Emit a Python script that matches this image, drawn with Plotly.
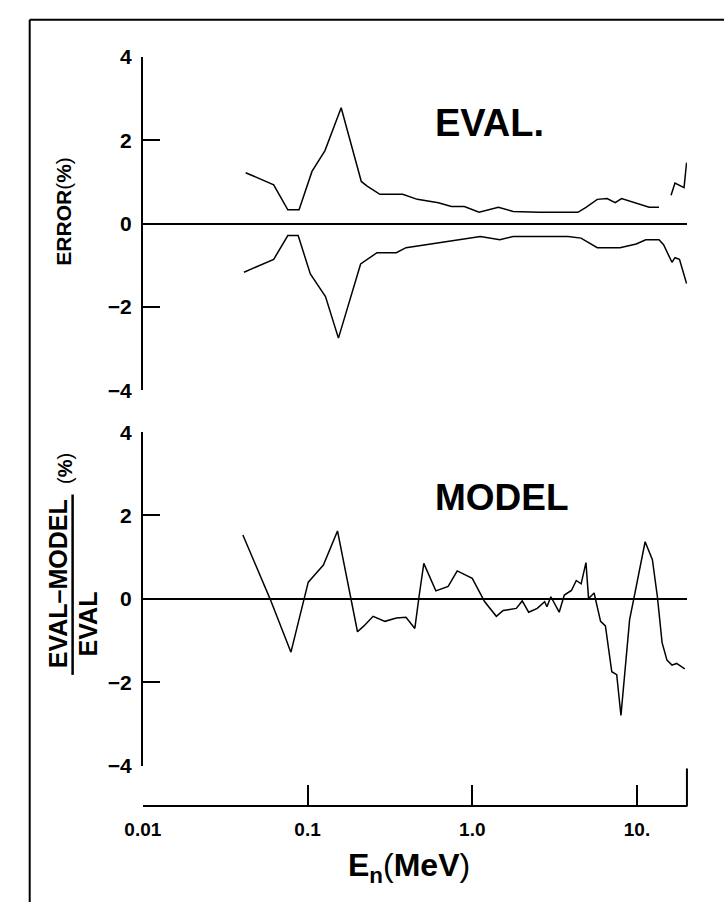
import math
import plotly.graph_objects as go

# ---------------- data ----------------
# Top panel: evaluation error (%), upper and lower envelopes
err_up_E = [0.0421, 0.0623, 0.0759, 0.0888, 0.1064, 0.1276, 0.160, 0.212, 0.230, 0.275,
            0.378, 0.464, 0.623, 0.747, 0.895, 1.10, 1.44, 1.77, 2.54, 4.38, 4.90,
            5.74, 6.58, 7.37, 8.06, 9.89, 11.85, 13.6]
err_up_V = [1.22, 0.93, 0.33, 0.33, 1.25, 1.75, 2.78, 1.01, 0.90, 0.70,
            0.70, 0.58, 0.50, 0.41, 0.41, 0.27, 0.39, 0.29, 0.27, 0.27, 0.39,
            0.58, 0.60, 0.50, 0.60, 0.49, 0.39, 0.39]
err_up_tail_E = [16.1, 17.0, 19.3, 20.0]
err_up_tail_V = [0.68, 0.97, 0.86, 1.46]

err_lo_E = [0.0411, 0.0623, 0.0759, 0.0877, 0.104, 0.1285, 0.154, 0.210, 0.264, 0.346,
            0.396, 0.520, 0.682, 0.818, 1.12, 1.47, 1.77, 2.66, 3.81, 4.57, 5.74,
            6.88, 7.88, 9.89, 11.3, 13.6, 14.5, 16.3, 17.0, 18.1, 20.0]
err_lo_V = [-1.17, -0.86, -0.29, -0.29, -1.21, -1.75, -2.75, -0.97, -0.70, -0.70,
            -0.58, -0.51, -0.43, -0.39, -0.31, -0.39, -0.31, -0.31, -0.31, -0.35, -0.58,
            -0.58, -0.58, -0.49, -0.39, -0.39, -0.51, -0.93, -0.82, -0.86, -1.44]

# Bottom panel: (EVAL-MODEL)/EVAL (%)
mod_E = [0.0405, 0.0592, 0.0793, 0.0951, 0.101, 0.1114, 0.1248, 0.152, 0.182, 0.201,
         0.220, 0.250, 0.295, 0.346, 0.396, 0.448, 0.475, 0.508, 0.601, 0.714,
         0.810, 1.00, 1.19, 1.40, 1.54, 1.85, 2.01, 2.20, 2.48, 2.75, 2.84, 3.00,
         3.37, 3.62, 4.00, 4.28, 4.58, 4.90, 5.08, 5.49, 6.01, 6.43, 7.03, 7.53,
         7.99, 9.02, 9.66, 11.2, 12.4, 13.3, 14.2, 15.2, 16.3, 17.4, 19.5]
mod_V = [1.53, 0.00, -1.28, -0.03, 0.40, 0.59, 0.81, 1.63, 0.05, -0.79,
         -0.65, -0.42, -0.54, -0.46, -0.44, -0.71, 0.05, 0.85, 0.19, 0.30,
         0.67, 0.49, -0.07, -0.42, -0.28, -0.23, -0.05, -0.32, -0.23, -0.07, -0.19, 0.05,
         -0.32, 0.09, 0.20, 0.44, 0.36, 0.87, 0.01, 0.14, -0.54, -0.65, -1.75, -1.82,
         -2.80, -0.50, 0.09, 1.37, 0.94, 0.05, -1.05, -1.47, -1.59, -1.55, -1.68]

y_ticks = [-4, -2, 0, 2, 4]
x_ticks = [0.01, 0.1, 1, 10]
x_ticktext = ["0.01", "0.1", "1.0", "10."]
x_min, x_max = 0.01, 20.1

# ---------------- layout helpers ----------------
W, H = 724, 913
def px(x):
    return x / W
def py(y):
    return 1 - y / H

FONT = "Liberation Sans, Arial, Helvetica, sans-serif"
line_style = dict(color="black", width=1.5)

fig = go.Figure()
fig.add_trace(go.Scatter(x=err_up_E, y=err_up_V, mode="lines", line=line_style, xaxis="x", yaxis="y"))
fig.add_trace(go.Scatter(x=err_up_tail_E, y=err_up_tail_V, mode="lines", line=line_style, xaxis="x", yaxis="y"))
fig.add_trace(go.Scatter(x=err_lo_E, y=err_lo_V, mode="lines", line=line_style, xaxis="x", yaxis="y"))
fig.add_trace(go.Scatter(x=mod_E, y=mod_V, mode="lines", line=line_style, xaxis="x2", yaxis="y2"))

xdom = [px(128), px(686)]
xr = [math.log10(x_min), math.log10(x_max)]
tickfont = dict(family=FONT, size=21, color="black", weight="bold")

yax_common = dict(range=[-4, 4], tickvals=y_ticks, ticks="inside", ticklen=17, tickwidth=1.6,
                  tickcolor="black", showline=True, linecolor="black", linewidth=2,
                  zeroline=True, zerolinecolor="black", zerolinewidth=1.6, showgrid=False,
                  tickfont=tickfont, ticklabelstandoff=5, fixedrange=True)

fig.update_layout(
    width=W, height=H,
    margin=dict(l=0, r=0, t=0, b=0),
    paper_bgcolor="white", plot_bgcolor="white",
    showlegend=False,
    xaxis=dict(domain=xdom, type="log", range=xr, visible=False, anchor="y"),
    yaxis=dict(domain=[py(388), py(46)], anchor="x", **yax_common),
    xaxis2=dict(domain=xdom, type="log", range=xr, anchor="free", position=py(815),
                tickvals=x_ticks, ticktext=x_ticktext, ticks="inside", ticklen=20, tickwidth=1.6,
                tickcolor="black", showline=True, linecolor="black", linewidth=2, showgrid=False,
                zeroline=False, tickfont=dict(family=FONT, size=19, color="black", weight="bold"),
                ticklabelstandoff=6),
    yaxis2=dict(domain=[py(773), py(431)], anchor="x2", **yax_common),
)

# right-end vertical of the energy axis and outer frame
fig.add_shape(type="line", xref="x2 domain", yref="paper", x0=1, x1=1, y0=py(815), y1=py(776),
              line=dict(color="black", width=2))
fig.add_shape(type="line", xref="paper", yref="paper", x0=px(12), x1=px(12), y0=0, y1=py(8),
              line=dict(color="black", width=2))
fig.add_shape(type="line", xref="paper", yref="paper", x0=px(12), x1=1, y0=py(8), y1=py(8),
              line=dict(color="black", width=2))

def ann(text, x, y, size, angle=0):
    fig.add_annotation(text=text, x=px(x), y=py(y), xref="paper", yref="paper",
                       showarrow=False, textangle=angle, xanchor="center", yanchor="middle",
                       font=dict(family=FONT, size=size, color="black"))

ann("<b>EVAL.</b>", 484, 114, 38)
ann("<b>MODEL</b>", 496, 498, 37)
ann("<b>ERROR</b>(<b>%</b>)", 47, 204, 21, -90)
# fraction label of lower panel
ann("<b>EVAL–MODEL</b>", 41, 586, 25, -90)
ann("<b>EVAL</b>", 72, 628, 25, -90)
fig.add_shape(type="line", xref="paper", yref="paper", x0=px(56), x1=px(56), y0=py(680), y1=py(495),
              line=dict(color="black", width=2.5))
ann("(<b>%</b>)", 48, 468, 20, -90)
ann("<b>E<sub>n</sub></b>(<b>MeV</b>)", 401, 878, 32)

fig.write_html("out.html", config={"displayModeBar": False},
               post_script="document.body.style.margin='0';")
